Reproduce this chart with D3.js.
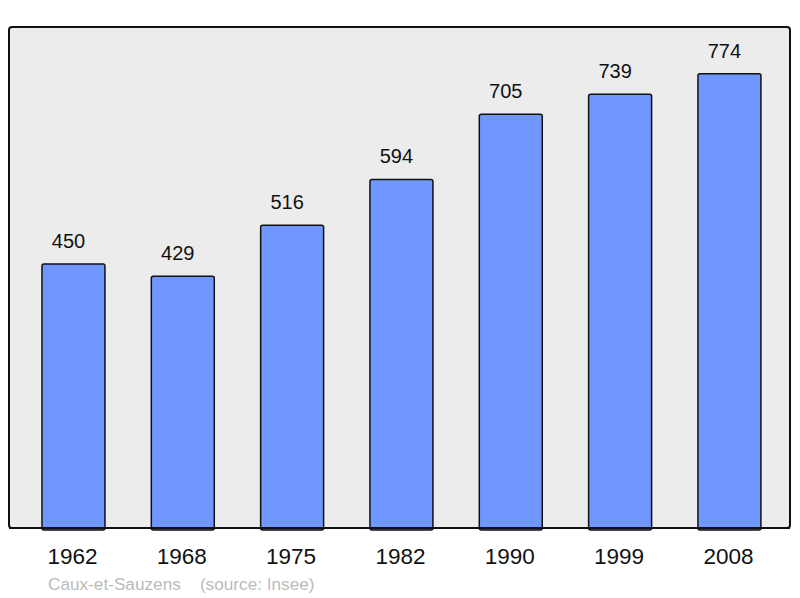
<!DOCTYPE html>
<html>
<head>
<meta charset="utf-8">
<script src="https://cdn.jsdelivr.net/npm/d3@7"></script>
<style>
  body { margin: 0; background: #fff; }
  svg { display: block; font-family: "Liberation Sans", Arial, sans-serif; }
</style>
</head>
<body>
<svg id="chart" width="800" height="598"></svg>
<script>
const years = ["1962", "1968", "1975", "1982", "1990", "1999", "2008"];
const population = [450, 429, 516, 594, 705, 739, 774];
const townName = "Caux-et-Sauzens";
const sourceText = "(source: Insee)";

const svg = d3.select("#chart");

// cadre gris du graphique
svg.append("rect")
    .attr("x", 9)
    .attr("y", 27)
    .attr("width", 781)
    .attr("height", 501)
    .attr("rx", 3)
    .attr("fill", "#ececec")
    .attr("stroke", "#111")
    .attr("stroke-width", 2);

const x = d3.scaleBand()
    .domain(years)
    .range([18.8, 784.1])
    .paddingInner(0.424)
    .paddingOuter(0.212);

const y = d3.scaleLinear()
    .domain([0, 852])
    .range([528, 28]);

const data = years.map((yr, i) => ({ year: yr, value: population[i] }));

svg.selectAll("rect.bar")
    .data(data)
    .join("rect")
    .attr("class", "bar")
    .attr("x", d => x(d.year))
    .attr("y", d => y(d.value))
    .attr("width", x.bandwidth())
    .attr("height", d => y(0) - y(d.value) + 2)
    .attr("rx", 2)
    .attr("fill", "#7097ff")
    .attr("stroke", "#111")
    .attr("stroke-width", 1.5);

// on redessine le bas du cadre par-dessus les barres
svg.append("line")
    .attr("x1", 9).attr("x2", 790)
    .attr("y1", 528).attr("y2", 528)
    .attr("stroke", "#111")
    .attr("stroke-width", 2);

svg.selectAll("text.val")
    .data(data)
    .join("text")
    .attr("class", "val")
    .attr("x", d => x(d.year) + x.bandwidth() / 2 - 5)
    .attr("y", d => y(d.value) - 16)
    .attr("text-anchor", "middle")
    .attr("font-size", 20)
    .attr("fill", "#111")
    .text(d => d.value);

svg.selectAll("text.year")
    .data(years)
    .join("text")
    .attr("class", "year")
    .attr("x", d => x(d) + x.bandwidth() / 2 - 1)
    .attr("y", 564)
    .attr("text-anchor", "middle")
    .attr("font-size", 22.5)
    .attr("fill", "#111")
    .text(d => d);

svg.append("text")
    .attr("x", 48)
    .attr("y", 590)
    .attr("font-size", 17.2)
    .attr("fill", "#bbbbbb")
    .attr("xml:space", "preserve")
    .style("white-space", "pre")
    .text(townName + "    " + sourceText);
</script>
</body>
</html>
